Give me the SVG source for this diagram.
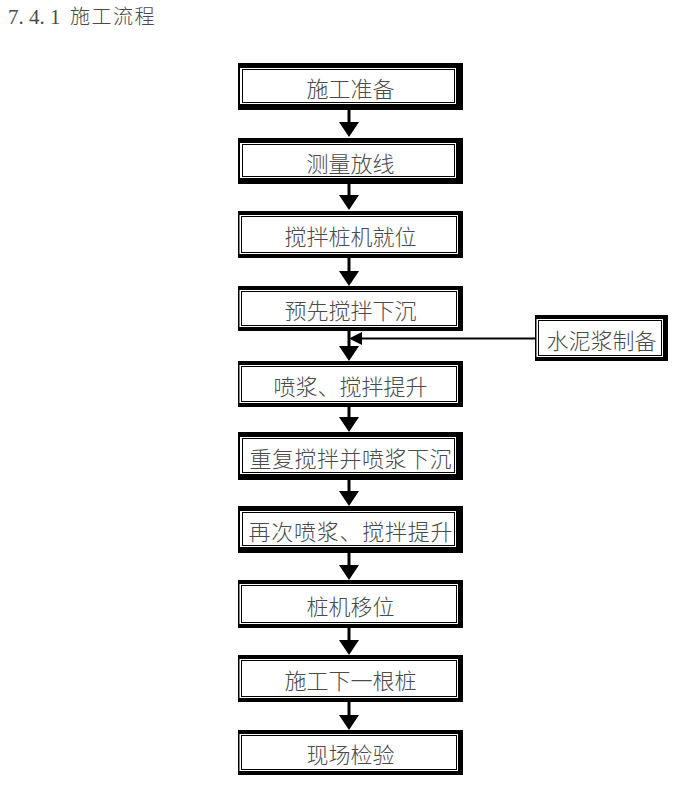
<svg xmlns="http://www.w3.org/2000/svg" width="691" height="794" viewBox="0 0 691 794">
<style>
.frame{fill:#000}
.gap{fill:#fff}
.inner{fill:#fff;stroke:#000;stroke-width:1}
.lbl{font-family:"Noto Sans CJK SC",sans-serif;font-size:22px;font-weight:300;fill:#4a4a4a;text-anchor:middle}
.title{font-family:"Liberation Serif","Noto Sans CJK SC",serif;font-size:21px;fill:#4a4a4a}
.conn{stroke:#000;fill:none}
</style>
<defs>
<marker id="ah" viewBox="0 0 15 20" refX="0" refY="10" markerWidth="15" markerHeight="20" markerUnits="userSpaceOnUse" orient="auto"><path d="M0,0 L15,10 L0,20 z" fill="#000"/></marker>
<marker id="ahs" viewBox="0 0 13 13" refX="0" refY="6.5" markerWidth="13" markerHeight="13" markerUnits="userSpaceOnUse" orient="auto"><path d="M0,0 L13,6.5 L0,13 z" fill="#000"/></marker>
</defs>
<rect width="691" height="794" fill="#fff"/>
<text class="title" x="8" y="24">7. 4. 1 <tspan x="70" font-family="Noto Sans CJK SC, sans-serif" font-size="20" font-weight="300" letter-spacing="1.5">施工流程</tspan></text>

<g id="connectors">
<line class="conn" stroke-width="3" x1="349" y1="110" x2="349" y2="122" marker-end="url(#ah)"/>
<line class="conn" stroke-width="3" x1="349" y1="184" x2="349" y2="195" marker-end="url(#ah)"/>
<line class="conn" stroke-width="3" x1="349" y1="258" x2="349" y2="271" marker-end="url(#ah)"/>
<line class="conn" stroke-width="3" x1="349" y1="331" x2="349" y2="346" marker-end="url(#ah)"/>
<line class="conn" stroke-width="3" x1="349" y1="407" x2="349" y2="417" marker-end="url(#ah)"/>
<line class="conn" stroke-width="3" x1="349" y1="480" x2="349" y2="491" marker-end="url(#ah)"/>
<line class="conn" stroke-width="3" x1="349" y1="553" x2="349" y2="565" marker-end="url(#ah)"/>
<line class="conn" stroke-width="3" x1="349" y1="628" x2="349" y2="640" marker-end="url(#ah)"/>
<line class="conn" stroke-width="3" x1="349" y1="702" x2="349" y2="715" marker-end="url(#ah)"/>
<line class="conn" stroke-width="2" x1="535" y1="338.5" x2="362" y2="338.5" marker-end="url(#ahs)"/>
</g>

<g id="n1">
<rect class="frame" x="238" y="63" width="225" height="47"/>
<rect class="gap" x="240" y="68" width="216" height="36"/>
<rect class="inner" x="242.5" y="69.5" width="212" height="33"/>
<text class="lbl" x="350.5" y="97">施工准备</text>
</g>
<g id="n2">
<rect class="frame" x="238" y="138" width="225" height="46"/>
<rect class="gap" x="240" y="143" width="216" height="35"/>
<rect class="inner" x="242.5" y="144.5" width="212" height="32"/>
<text class="lbl" x="350.5" y="171.5">测量放线</text>
</g>
<g id="n3">
<rect class="frame" x="238" y="211" width="225" height="47"/>
<rect class="gap" x="239.5" y="215" width="218.5" height="39"/>
<rect class="inner" x="241.5" y="216.5" width="215" height="36"/>
<text class="lbl" x="350.5" y="245">搅拌桩机就位</text>
</g>
<g id="n4">
<rect class="frame" x="238" y="286" width="225" height="45"/>
<rect class="gap" x="239.5" y="290" width="218.5" height="37"/>
<rect class="inner" x="241.5" y="291.5" width="215" height="34"/>
<text class="lbl" x="350.5" y="319">预先搅拌下沉</text>
</g>
<g id="n5">
<rect class="frame" x="238" y="361" width="225" height="46"/>
<rect class="gap" x="239.5" y="365" width="218.5" height="38"/>
<rect class="inner" x="241.5" y="366.5" width="215" height="35"/>
<text class="lbl" x="350.5" y="394.5">喷浆、搅拌提升</text>
</g>
<g id="n6">
<rect class="frame" x="238" y="432" width="225" height="48"/>
<rect class="gap" x="240" y="437" width="216" height="37"/>
<rect class="inner" x="242.5" y="438.5" width="212" height="34"/>
<text class="lbl" x="350.5" y="466.5" textLength="202" lengthAdjust="spacing">重复搅拌并喷浆下沉</text>
</g>
<g id="n7">
<rect class="frame" x="238" y="506" width="225" height="47"/>
<rect class="gap" x="240" y="511" width="216" height="36"/>
<rect class="inner" x="242.5" y="512.5" width="212" height="33"/>
<text class="lbl" x="350.5" y="540" textLength="204" lengthAdjust="spacing">再次喷浆、搅拌提升</text>
</g>
<g id="n8">
<rect class="frame" x="238" y="580" width="225" height="48"/>
<rect class="gap" x="239.5" y="584" width="218.5" height="40"/>
<rect class="inner" x="241.5" y="585.5" width="215" height="37"/>
<text class="lbl" x="350.5" y="614.5">桩机移位</text>
</g>
<g id="n9">
<rect class="frame" x="238" y="655" width="225" height="47"/>
<rect class="gap" x="239.5" y="659" width="218.5" height="39"/>
<rect class="inner" x="241.5" y="660.5" width="215" height="36"/>
<text class="lbl" x="350.5" y="689">施工下一根桩</text>
</g>
<g id="n10">
<rect class="frame" x="238" y="730" width="225" height="45"/>
<rect class="gap" x="239.5" y="734" width="218.5" height="37"/>
<rect class="inner" x="241.5" y="735.5" width="215" height="34"/>
<text class="lbl" x="350.5" y="763">现场检验</text>
</g>
<g id="n11">
<rect class="frame" x="535" y="315" width="133" height="46"/>
<rect class="gap" x="536.5" y="319" width="126.5" height="38"/>
<rect class="inner" x="538.5" y="320.5" width="123" height="35"/>
<text class="lbl" x="601.5" y="348.5">水泥浆制备</text>
</g>
</svg>
